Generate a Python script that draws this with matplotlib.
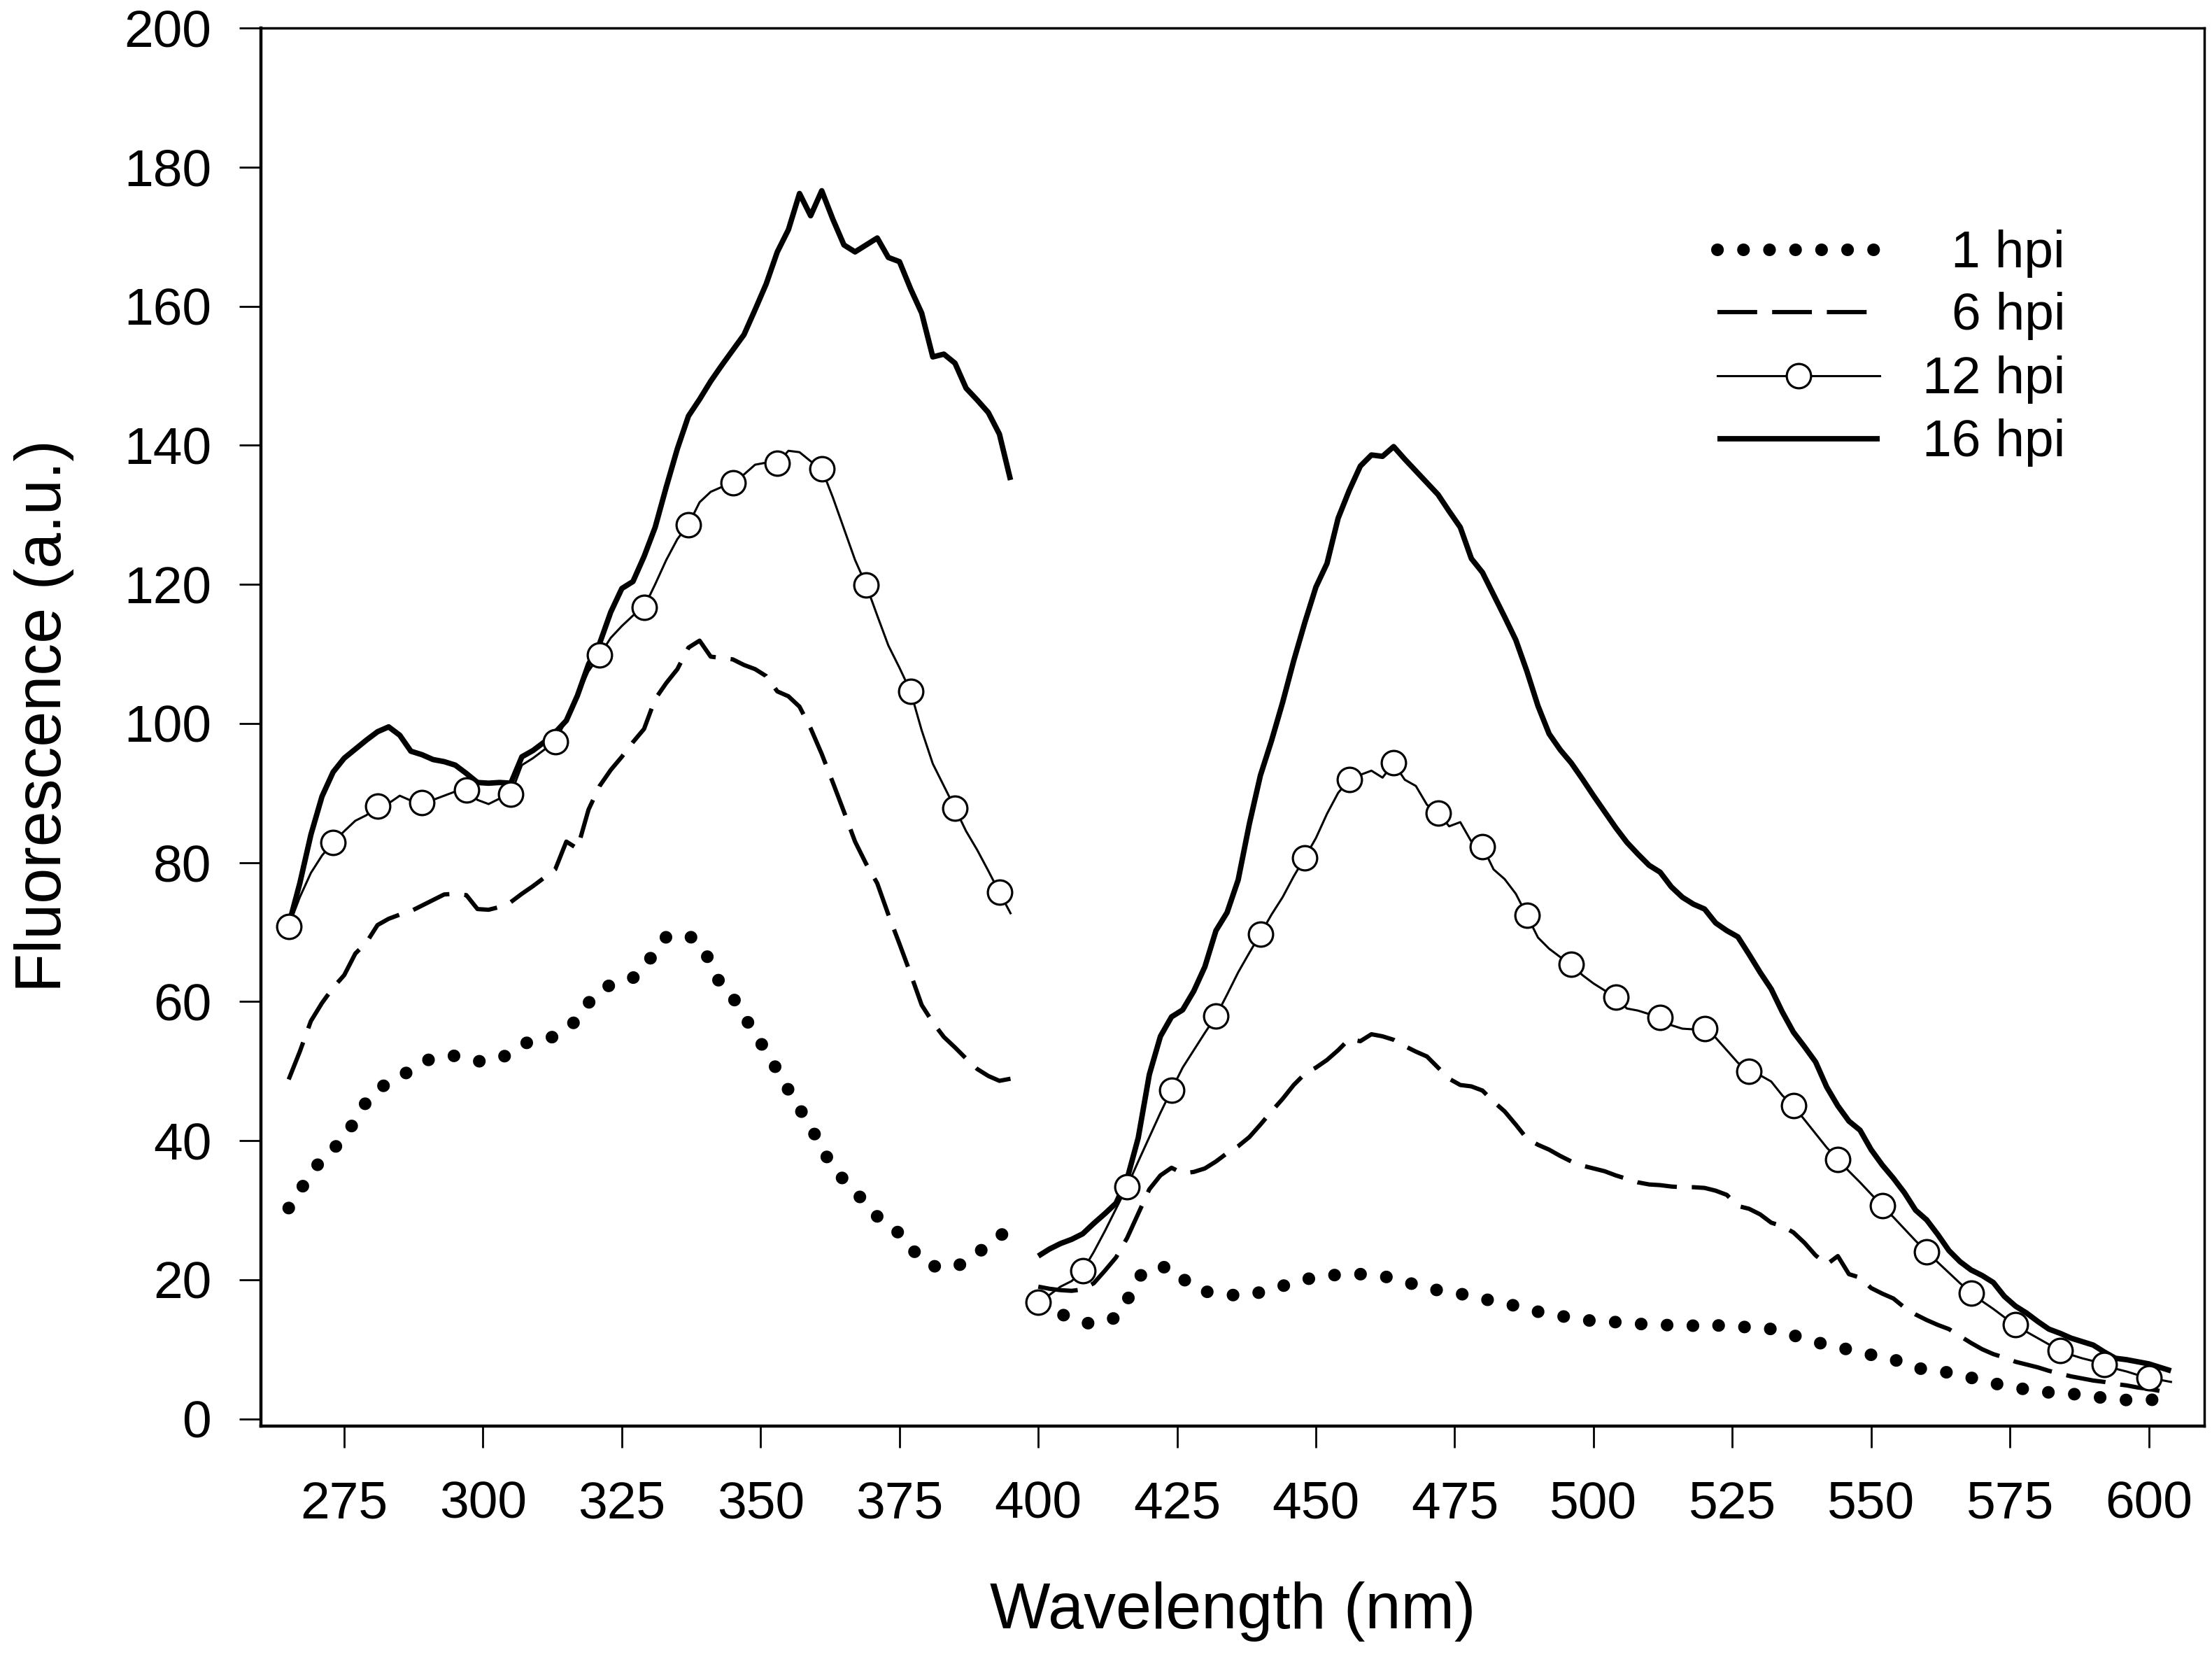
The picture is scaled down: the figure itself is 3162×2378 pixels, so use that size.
import numpy as np
import matplotlib
matplotlib.use('Agg')
from matplotlib import pyplot as plt

plt.rcParams['font.family'] = ['Liberation Sans', 'DejaVu Sans']

# wavelength grids (nm): excitation part and emission part of the spectra
wl_ex = np.arange(265, 396, 2)
wl_em = np.arange(400, 605, 2)

hpi16_ex = [71.0, 77.0, 84.0, 89.5, 93.0, 95.0, 96.3, 97.6, 98.8, 99.5, 98.3,
            96.0, 95.5, 94.8, 94.5, 94.0, 92.8, 91.5, 91.4, 91.5, 91.4, 95.2,
            96.1, 97.3, 98.7, 100.4, 104.0, 108.5, 111.5, 116.0, 119.4, 120.4, 124.0,
            128.2, 134.0, 139.5, 144.2, 146.6, 149.2, 151.5, 153.7, 155.9, 159.5, 163.2,
            167.8, 171.0, 176.2, 173.0, 176.6, 172.5, 168.8, 167.8, 168.8, 169.8, 167.0,
            166.4, 162.5, 159.0, 152.7, 153.1, 151.8, 148.2, 146.5, 144.7, 141.6, 135.0]
hpi12_ex = [70.8, 75.0, 78.5, 81.0, 82.9, 84.5, 86.0, 86.8, 88.1, 88.5, 89.6,
            88.9, 88.6, 89.0, 89.6, 90.2, 90.4, 89.0, 88.4, 89.2, 89.8, 94.0,
            95.0, 96.2, 97.4, 100.5, 104.0, 107.5, 109.8, 112.3, 114.0, 115.5, 116.7,
            120.0, 123.5, 126.5, 128.6, 131.8, 133.3, 134.0, 134.6, 135.8, 137.2, 137.5,
            137.4, 139.2, 139.0, 137.7, 136.6, 132.5, 128.0, 123.5, 119.9, 115.5, 111.2,
            108.0, 104.6, 99.0, 94.2, 91.0, 87.8, 84.5, 81.8, 78.8, 75.7, 72.7]
hpi6_ex = [48.8, 52.8, 57.2, 59.8, 62.0, 63.8, 66.9, 68.5, 71.0, 71.9, 72.5,
           73.0, 73.8, 74.6, 75.4, 75.5, 75.3, 73.3, 73.2, 73.6, 74.3, 75.5,
           76.6, 77.8, 79.0, 83.0, 82.0, 87.6, 91.0, 93.3, 95.2, 97.3, 99.2,
           103.5, 105.8, 107.8, 110.9, 111.9, 109.6, 109.4, 109.2, 108.4, 107.8, 106.8,
           104.6, 103.9, 102.4, 99.3, 95.6, 91.5, 87.3, 83.0, 79.8, 77.0, 72.5,
           68.3, 64.0, 59.5, 57.0, 54.9, 53.4, 51.8, 50.3, 49.3, 48.6, 48.9]
hpi1_ex = [30.3, 32.8, 35.2, 37.4, 38.8, 40.3, 43.0, 45.6, 47.4, 48.3, 49.1,
           50.2, 51.2, 51.9, 52.1, 52.2, 51.8, 51.4, 51.5, 51.8, 52.6, 53.8,
           54.4, 54.6, 55.0, 56.1, 57.4, 59.8, 61.6, 62.4, 62.9, 63.4, 64.9,
           67.2, 69.3, 69.6, 69.5, 68.4, 65.6, 62.0, 60.6, 57.9, 55.4, 52.8,
           50.1, 47.3, 44.6, 42.1, 38.8, 36.3, 34.3, 32.6, 31.0, 29.1, 27.6,
           26.7, 24.8, 22.6, 22.0, 21.6, 21.9, 22.5, 23.8, 25.0, 26.3, 27.2]

hpi16_em = [23.4, 24.4, 25.2, 25.8, 26.6, 28.1, 29.5, 31.0, 34.5, 40.4,
            49.5, 55.0, 57.8, 58.8, 61.5, 65.0, 70.2, 72.8, 77.5, 85.5,
            92.5, 97.5, 103.0, 109.0, 114.5, 119.6, 123.0, 129.5, 133.5, 137.0,
            138.6, 138.4, 139.8, 138.0, 136.3, 134.6, 132.9, 130.5, 128.2, 123.7,
            121.7, 118.5, 115.3, 112.0, 107.5, 102.5, 98.5, 96.2, 94.3, 92.0,
            89.6, 87.3, 85.0, 82.9, 81.2, 79.6, 78.6, 76.5, 75.0, 74.0,
            73.3, 71.3, 70.2, 69.3, 66.8, 64.2, 61.8, 58.5, 55.6, 53.5,
            51.3, 47.7, 45.0, 42.8, 41.5, 38.7, 36.5, 34.6, 32.5, 30.0,
            28.6, 26.5, 24.2, 22.6, 21.4, 20.6, 19.6, 17.6, 16.2, 15.2,
            14.0, 12.9, 12.3, 11.6, 11.1, 10.6, 9.6, 8.7, 8.5, 8.2,
            7.9, 7.4, 6.9]
hpi12_em = [16.8, 17.8, 19.0, 19.8, 21.3, 24.0, 27.0, 30.2, 33.4, 37.0,
            40.5, 44.0, 47.3, 50.5, 53.0, 55.5, 57.9, 61.0, 64.2, 67.0,
            69.7, 72.5, 75.0, 78.0, 80.7, 83.5, 87.0, 90.0, 91.9, 92.6,
            93.2, 92.2, 94.3, 91.9, 91.0, 88.3, 87.1, 85.2, 85.8, 83.0,
            82.3, 79.0, 77.6, 75.5, 72.4, 69.2, 67.6, 66.4, 65.4, 63.8,
            62.6, 61.6, 60.6, 59.0, 58.7, 58.2, 57.7, 56.6, 56.1, 56.0,
            56.1, 54.8, 53.0, 51.2, 50.0, 49.4, 48.5, 46.5, 45.0, 43.0,
            41.0, 39.0, 37.3, 35.6, 34.0, 32.3, 30.6, 29.0, 27.3, 25.6,
            24.0, 22.5, 21.0, 19.5, 18.1, 16.9, 15.8, 14.6, 13.5, 12.5,
            11.6, 10.7, 9.8, 9.2, 8.7, 8.3, 7.8, 7.2, 6.8, 6.3,
            5.9, 5.6, 5.3]
hpi6_em = [19.0, 18.7, 18.5, 18.4, 18.6, 19.5, 21.3, 23.2, 26.0, 29.5,
           33.0, 35.0, 36.1, 35.3, 35.5, 36.0, 37.0, 38.2, 39.2, 40.5,
           42.3, 44.2, 46.0, 48.0, 49.6, 50.5, 51.6, 53.0, 54.6, 54.3,
           55.3, 55.0, 54.5, 53.6, 52.8, 52.1, 50.5, 48.9, 48.0, 47.8,
           47.2, 45.6, 44.2, 42.3, 40.3, 39.4, 38.7, 37.8, 37.0, 36.4,
           36.0, 35.6, 35.0, 34.5, 34.0, 33.7, 33.6, 33.4, 33.3, 33.3,
           33.2, 32.8, 32.2, 30.6, 30.2, 29.4, 28.2, 27.7, 26.8, 25.3,
           23.5, 22.2, 23.4, 20.8, 20.3, 18.8, 18.0, 17.3, 16.0, 15.0,
           14.2, 13.5, 12.9, 11.9, 10.9, 10.0, 9.3, 8.8, 8.2, 7.8,
           7.4, 6.9, 6.5, 6.1, 5.8, 5.5, 5.3, 5.0, 4.8, 4.5,
           4.3, 4.0, 3.8]
hpi1_em = [15.8, 15.4, 15.1, 14.4, 13.8, 13.7, 13.9, 14.6, 17.0, 20.3,
           21.7, 21.8, 21.8, 20.2, 18.8, 18.3, 18.1, 17.9, 17.7, 17.8,
           18.2, 18.6, 19.1, 19.6, 20.0, 20.4, 20.6, 20.7, 20.8, 20.8,
           20.7, 20.5, 20.2, 19.8, 19.2, 18.7, 18.5, 18.3, 18.0, 17.5,
           17.2, 17.0, 16.7, 16.2, 15.7, 15.4, 15.1, 14.8, 14.5, 14.2,
           14.1, 14.1, 13.9, 13.7, 13.6, 13.7, 13.6, 13.4, 13.2, 13.4,
           13.7, 13.5, 13.2, 13.2, 13.2, 13.2, 12.9, 12.5, 12.0, 11.5,
           11.0, 10.7, 10.4, 9.9, 9.5, 9.2, 9.0, 8.6, 7.8, 7.3,
           7.1, 7.0, 6.6, 6.3, 5.9, 5.5, 5.1, 4.8, 4.5, 4.2,
           3.9, 3.8, 3.7, 3.6, 3.4, 3.2, 3.0, 2.8, 2.7, 2.7,
           2.7, 2.8, 2.9]

labels = ['1 hpi', '6 hpi', '12 hpi', '16 hpi']
series = {
    '1 hpi': (hpi1_ex, hpi1_em),
    '6 hpi': (hpi6_ex, hpi6_em),
    '12 hpi': (hpi12_ex, hpi12_em),
    '16 hpi': (hpi16_ex, hpi16_em),
}

styles = {
    '1 hpi': dict(color='black', lw=13, dashes=(0.01, 2.05), dash_capstyle='round', zorder=2),
    '6 hpi': dict(color='black', lw=4.4, dashes=(9.3, 3.5), dash_capstyle='butt', zorder=2),
    '12 hpi': dict(color='black', lw=2.2, marker='o', ms=25, mfc='white', mec='black',
                   mew=2.3, markevery=4, zorder=4),
    '16 hpi': dict(color='black', lw=5.6, solid_capstyle='butt', zorder=3),
}


def plot_spectra(ax):
    for name in labels:
        ex, em = series[name]
        ax.plot(wl_ex, ex, **styles[name])
        ax.plot(wl_em, em, **styles[name])


def draw_legend(ax):
    # hand-made legend: handle on the left, label right-aligned
    rows = [0.8413, 0.7968, 0.7513, 0.7062]
    x0, x1, xt = 0.7495, 0.833, 0.9284
    for name, y in zip(labels, rows):
        st = dict(styles[name])
        st.pop('markevery', None)
        mk = {k: st.pop(k) for k in ['marker', 'ms', 'mfc', 'mec', 'mew'] if k in st}
        ax.plot([x0, x1], [y, y], transform=ax.transAxes, clip_on=False, **st)
        if mk:
            ax.plot([(x0 + x1) / 2], [y], transform=ax.transAxes, clip_on=False,
                    color='black', linestyle='none', zorder=5, **mk)
        ax.text(xt, y - 0.0126, name, transform=ax.transAxes, ha='right',
                va='baseline', fontsize=54)


def main():
    W, H = 3162, 2378
    fig = plt.figure(figsize=(W / 100, H / 100), dpi=100)
    ax = fig.add_axes([373 / W, 1 - 2038 / H, (3151 - 373) / W, (2038 - 40) / H])

    plot_spectra(ax)
    draw_legend(ax)

    ax.set_xlim(260, 610)
    ax.set_ylim(-1.05, 200)
    ax.set_xticks(range(275, 601, 25))
    ax.set_yticks(range(0, 201, 20))
    ax.tick_params(direction='out', length=22, width=2, labelsize=54,
                   top=False, right=False)
    ax.tick_params(axis='x', pad=34)
    ax.tick_params(axis='y', pad=29)
    for s in ax.spines.values():
        s.set_linewidth(2.5)
    ax.spines['left'].set_linewidth(3.2)
    ax.spines['bottom'].set_linewidth(3.2)

    ax.set_xlabel('Wavelength (nm)', fontsize=66)
    ax.set_ylabel('Fluorescence (a.u.)', fontsize=66)
    ax.xaxis.set_label_coords(0.5, -0.111)
    ax.yaxis.set_label_coords(-0.096, 0.508)

    plt.savefig('out.png', dpi=100)


main()
